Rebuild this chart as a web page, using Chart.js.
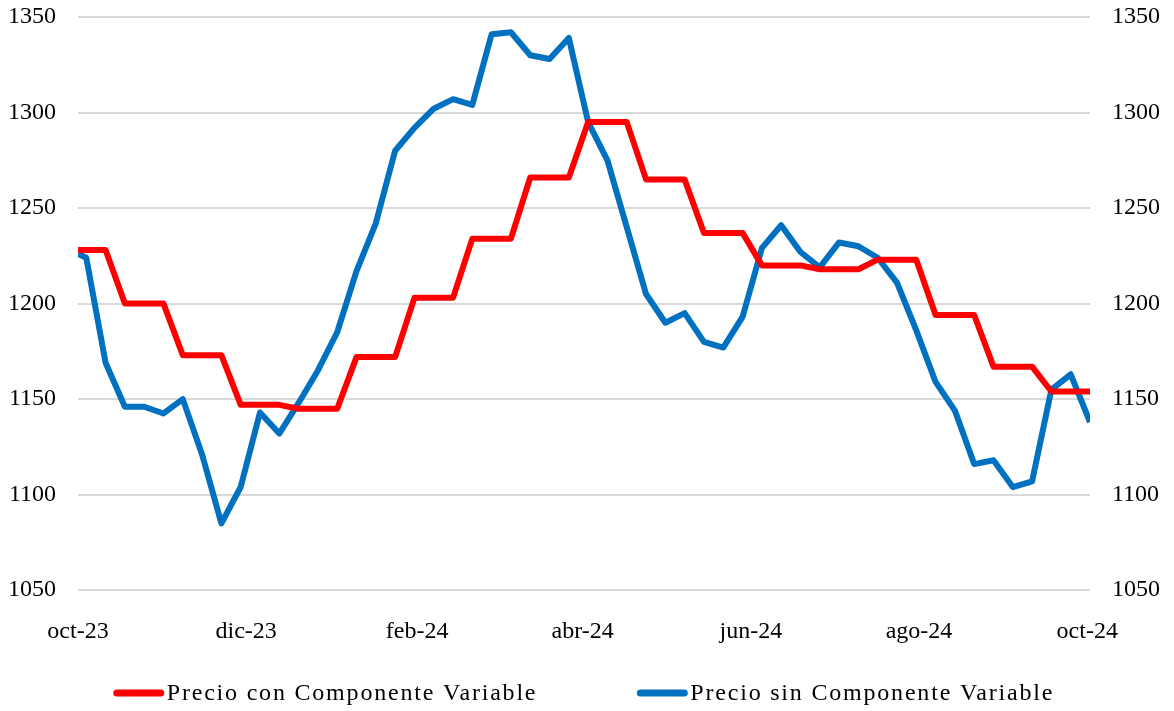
<!DOCTYPE html>
<html>
<head>
<meta charset="utf-8">
<script src="https://cdn.jsdelivr.net/npm/chart.js@4.4.1/dist/chart.umd.min.js"></script>
<style>
  html, body { margin: 0; padding: 0; background: #fff; }
  #wrap { width: 1174px; height: 711px; }
</style>
</head>
<body>
<div id="wrap"><canvas id="chart"></canvas></div>
<script>
// weekly dates (first one is the start of the axis)
var dates = [
  '2023-10-01','2023-10-04','2023-10-11','2023-10-18','2023-10-25',
  '2023-11-01','2023-11-08','2023-11-15','2023-11-22','2023-11-29',
  '2023-12-06','2023-12-13','2023-12-20','2023-12-27',
  '2024-01-03','2024-01-10','2024-01-17','2024-01-24','2024-01-31',
  '2024-02-07','2024-02-14','2024-02-21','2024-02-28',
  '2024-03-06','2024-03-13','2024-03-20','2024-03-27',
  '2024-04-03','2024-04-10','2024-04-17','2024-04-24',
  '2024-05-01','2024-05-08','2024-05-15','2024-05-22','2024-05-29',
  '2024-06-05','2024-06-12','2024-06-19','2024-06-26',
  '2024-07-03','2024-07-10','2024-07-17','2024-07-24','2024-07-31',
  '2024-08-07','2024-08-14','2024-08-21','2024-08-28',
  '2024-09-04','2024-09-11','2024-09-18','2024-09-25',
  '2024-10-02'
];

var conComponente = [
  1228, 1228, 1228, 1200, 1200, 1200, 1173, 1173, 1173, 1147,
  1147, 1147, 1145, 1145, 1145, 1172, 1172, 1172, 1203, 1203,
  1203, 1234, 1234, 1234, 1266, 1266, 1266, 1295, 1295, 1295,
  1265, 1265, 1265, 1237, 1237, 1237, 1220, 1220, 1220, 1218,
  1218, 1218, 1223, 1223, 1223, 1194, 1194, 1194, 1167, 1167,
  1167, 1154, 1154, 1154
];

var sinComponente = [
  1226, 1224, 1169, 1146, 1146, 1142.5, 1150, 1121, 1085, 1104,
  1143, 1132, 1148, 1165, 1185, 1217, 1242, 1280, 1292, 1302,
  1307, 1304, 1341, 1342, 1330, 1328, 1339, 1295, 1275, 1240,
  1205, 1190, 1195, 1180, 1177, 1193, 1229, 1241, 1227, 1219,
  1232, 1230, 1224, 1211, 1186, 1159, 1144, 1116, 1118, 1104,
  1107, 1155, 1163, 1138
];

var tickDates = ['2023-10-01','2023-12-01','2024-02-01','2024-04-01','2024-06-01','2024-08-01','2024-10-01'];
var tickLabels = ['oct-23','dic-23','feb-24','abr-24','jun-24','ago-24','oct-24'];

var seriesNames = ['Precio con Componente Variable', 'Precio sin Componente Variable'];

var DAY = 86400000;
var t0 = Date.parse(dates[0]);
function dayOf(s) { return Math.round((Date.parse(s) - t0) / DAY); }

function toPoints(vals) {
  return vals.map(function (v, i) { return { x: dayOf(dates[i]), y: v }; });
}

var tickDays = tickDates.map(dayOf);
var FAMILY = '"Liberation Serif", "DejaVu Serif", serif';
var font = { family: FAMILY, size: 24 };

// scales should not push the plot area in for their edge labels
function noEdgePadding(axis) {
  axis.paddingTop = 0;
  axis.paddingBottom = 0;
  axis.paddingLeft = 0;
  axis.paddingRight = 0;
}

// legend drawn by hand: short thick line, small gap, text
var lineLegend = {
  id: 'lineLegend',
  afterDraw: function (chart) {
    var ctx = chart.ctx;
    var area = chart.chartArea;
    var sets = chart.data.datasets;
    var lineW = 50, gap = 3, itemGap = 100;
    ctx.save();
    ctx.font = '24px ' + FAMILY;
    ctx.letterSpacing = '1.8px';
    var widths = sets.map(function (ds) { return ctx.measureText(ds.label).width; });
    var total = 0;
    widths.forEach(function (w) { total += lineW + gap + w; });
    total += itemGap * (sets.length - 1);
    var x = (area.left + area.right) / 2 - total / 2;
    var y = chart.height - 18;
    ctx.textBaseline = 'middle';
    ctx.fillStyle = '#000';
    sets.forEach(function (ds, i) {
      ctx.strokeStyle = ds.borderColor;
      ctx.lineWidth = 7;
      ctx.lineCap = 'round';
      ctx.beginPath();
      ctx.moveTo(x + 3, y);
      ctx.lineTo(x + lineW - 3, y);
      ctx.stroke();
      ctx.fillText(ds.label, x + lineW + gap, y + 1);
      x += lineW + gap + widths[i] + itemGap;
    });
    ctx.restore();
  }
};

new Chart(document.getElementById('chart'), {
  type: 'line',
  data: {
    datasets: [{
      label: seriesNames[0],
      data: toPoints(conComponente),
      borderColor: '#ff0000',
      backgroundColor: '#ff0000',
      borderWidth: 6,
      borderJoinStyle: 'round',
      pointRadius: 0,
      tension: 0
    }, {
      label: seriesNames[1],
      data: toPoints(sinComponente),
      borderColor: '#0070c0',
      backgroundColor: '#0070c0',
      borderWidth: 6,
      borderJoinStyle: 'round',
      pointRadius: 0,
      tension: 0
    }]
  },
  plugins: [lineLegend],
  options: {
    responsive: true,
    maintainAspectRatio: false,
    animation: false,
    layout: { padding: { left: -14, right: -8, top: 17, bottom: 46 } },
    plugins: {
      legend: { display: false },
      tooltip: { enabled: false }
    },
    scales: {
      x: {
        type: 'linear',
        min: 0,
        max: dayOf(dates[dates.length - 1]),
        grid: { display: false },
        border: { display: false },
        afterFit: noEdgePadding,
        afterBuildTicks: function (axis) {
          axis.ticks = tickDays.map(function (d) { return { value: d }; });
        },
        ticks: {
          font: font,
          color: '#000',
          padding: 19,
          maxRotation: 0,
          autoSkip: false,
          callback: function (value) {
            var i = tickDays.indexOf(value);
            return i >= 0 ? tickLabels[i] : '';
          }
        }
      },
      y: {
        position: 'left',
        min: 1050,
        max: 1350,
        grid: { color: '#d9d9d9', lineWidth: 2, drawTicks: false },
        border: { display: false },
        afterFit: noEdgePadding,
        ticks: {
          stepSize: 50, font: font, color: '#000', padding: 22,
          callback: function (v) { return String(v); }
        }
      },
      y2: {
        position: 'right',
        min: 1050,
        max: 1350,
        grid: { display: false, drawTicks: false },
        border: { display: false },
        afterFit: noEdgePadding,
        ticks: {
          stepSize: 50, font: font, color: '#000', padding: 22,
          callback: function (v) { return String(v); }
        }
      }
    }
  }
});
</script>
</body>
</html>
